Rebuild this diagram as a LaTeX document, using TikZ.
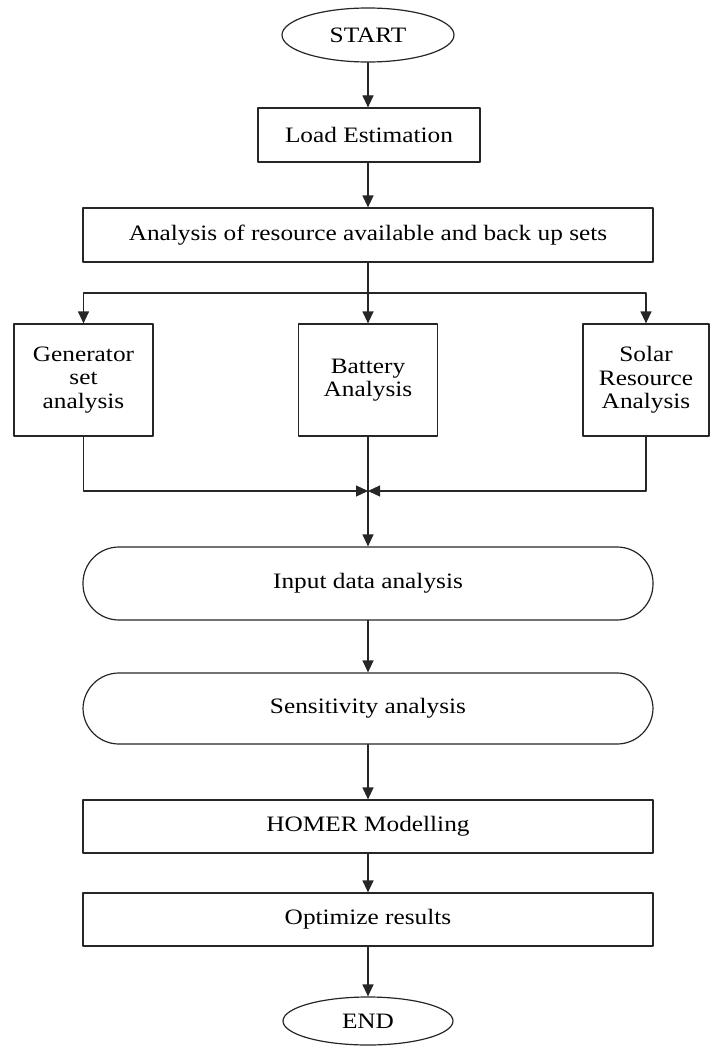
\documentclass[tikz,border=0pt]{standalone}
\usepackage{fontspec}
\setmainfont{Liberation Serif}[FakeStretch=1.15]
\usepackage{tikz}
\usetikzlibrary{arrows.meta,positioning,shapes.geometric}

\tikzset{
  flowbox/.style={draw=black!85, line width=1.2pt, rectangle, inner sep=0pt,
                  align=center, font=\fontsize{22}{23.5}\selectfont},
  flowround/.style={flowbox, rounded corners=36pt},
  flowterm/.style={flowbox, ellipse},
  flowarrow/.style={draw=black!85, line width=1.2pt,
                    -{Triangle[length=12pt,width=11pt]}},
  flowline/.style={draw=black!85, line width=1.2pt}
}

\begin{document}
\begin{tikzpicture}[x=1pt, y=-1pt, line cap=round, line join=round]

% ---------------------------------------------------------
% Frame
% ---------------------------------------------------------
\useasboundingbox (0,0) rectangle (710,1046);

% ---------------------------------------------------------
% Parameters
% ---------------------------------------------------------
\pgfmathsetmacro{\Wide}{570}      % width of the long boxes
\pgfmathsetmacro{\Wsub}{139}      % width of the three sub boxes

% ---------------------------------------------------------
% Top part
% ---------------------------------------------------------
\node[flowterm, minimum width=172pt, minimum height=54pt] (start) at (368,35) {START};
\node[flowbox, minimum width=222pt, minimum height=54pt] (load) at (369,135) {Load Estimation};
\node[flowbox, minimum width=\Wide pt, minimum height=54pt] (resource) at (368,235)
    {Analysis of resource available and back up sets};

% ---------------------------------------------------------
% Three sub analyses
% ---------------------------------------------------------
\node[flowbox, minimum width=\Wsub pt, minimum height=112pt] (generator) at (83.5,380)
    {Generator\\set\\analysis};
\node[flowbox, minimum width=\Wsub pt, minimum height=112pt] (battery) at (368,380)
    {Battery\\Analysis};
\node[flowbox, minimum width=126pt, minimum height=112pt] (solar) at (646,380)
    {Solar\\Resource\\Analysis};

\coordinate (split) at (368,293);   % branch point
\coordinate (merge) at (368,491);   % join point

% ---------------------------------------------------------
% Lower part
% ---------------------------------------------------------
\node[flowround, minimum width=\Wide pt, minimum height=73pt] (input) at (368,583.5)
    {Input data analysis};
\node[flowround, minimum width=\Wide pt, minimum height=71pt] (sensitivity) at (368,708.5)
    {Sensitivity analysis};
\node[flowbox, minimum width=\Wide pt, minimum height=53pt] (homer) at (368,826.5)
    {HOMER Modelling};
\node[flowbox, minimum width=\Wide pt, minimum height=53pt] (optimize) at (368,919.5)
    {Optimize results};
\node[flowterm, minimum width=170pt, minimum height=48pt] (end) at (368,1021) {END};

% ---------------------------------------------------------
% Connectors
% ---------------------------------------------------------
\draw[flowarrow] (start) -- (start |- load.north);
\draw[flowarrow] (load.south -| start) -- (resource);
\draw[flowline]  (resource) -- (split);
\draw[flowarrow] (split) -| (generator);
\draw[flowarrow] (split) -- (battery);
\draw[flowarrow] (split) -| (solar);

\draw[flowarrow] (generator) |- (merge);
\draw[flowarrow] (solar) |- (merge);
\draw[flowline]  (battery) -- (merge);
\draw[flowarrow] (merge) -- (input);

\draw[flowarrow] (input) -- (sensitivity);
\draw[flowarrow] (sensitivity) -- (homer);
\draw[flowarrow] (homer) -- (optimize);
\draw[flowarrow] (optimize) -- (end);

\end{tikzpicture}
\end{document}
